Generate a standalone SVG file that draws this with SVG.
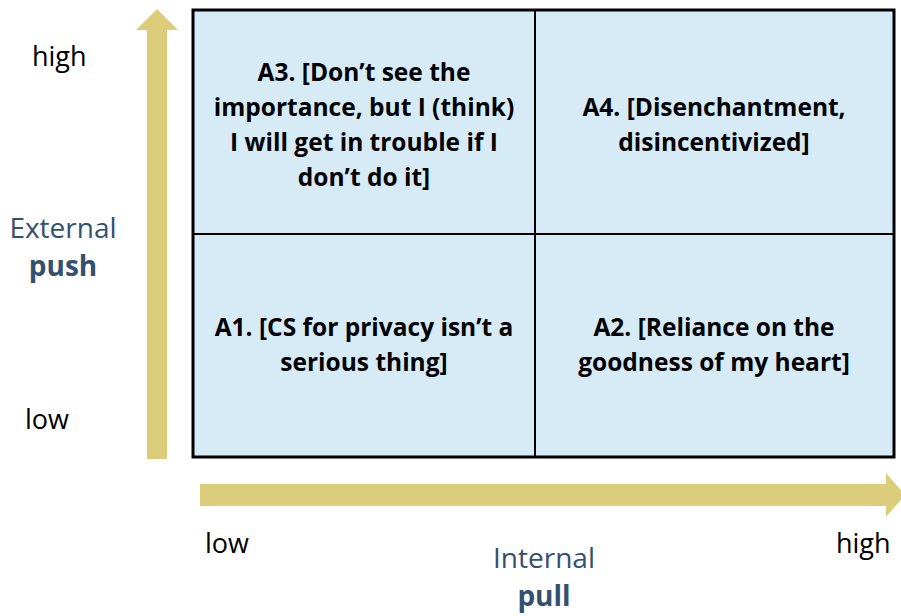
<svg xmlns="http://www.w3.org/2000/svg" width="901" height="616" viewBox="0 0 901 616">
  <style>
    .cell { fill: #d7ebf7; stroke: #000; stroke-width: 3; }
    .axis { fill: #dccd7a; }
    .q { font-family: "Open Sans", "Liberation Sans", sans-serif; font-weight: bold; font-size: 24.5px; fill: #000; text-anchor: middle; }
    .tick { font-family: "Open Sans", "Liberation Sans", sans-serif; font-size: 27px; fill: #000; }
    .ax { font-family: "Open Sans", "Liberation Sans", sans-serif; font-size: 28px; fill: #34506f; text-anchor: middle; }
  </style>

  <!-- axis arrows -->
  <g id="axis-external">
    <polygon class="axis" points="157,9 178,30 167,30 167,459 147,459 147,30 136,30"/>
  </g>
  <g id="axis-internal">
    <polygon class="axis" points="200,484 886,484 886,473 905,495 886,517 886,506 200,506"/>
  </g>

  <!-- quadrant grid -->
  <g id="grid">
    <rect class="cell" x="193" y="10" width="701" height="447"/>
    <line x1="535" y1="10" x2="535" y2="457" stroke="#000" stroke-width="2"/>
    <line x1="193" y1="234" x2="894" y2="234" stroke="#000" stroke-width="2"/>
  </g>

  <g id="A3">
    <text class="q" x="364" y="81">A3. [Don’t see the</text>
    <text class="q" x="364" y="116">importance, but I (think)</text>
    <text class="q" x="364" y="151">I will get in trouble if I</text>
    <text class="q" x="364" y="186">don’t do it]</text>
  </g>
  <g id="A4">
    <text class="q" x="714" y="116">A4. [Disenchantment,</text>
    <text class="q" x="714" y="151">disincentivized]</text>
  </g>
  <g id="A1">
    <text class="q" x="364" y="336">A1. [CS for privacy isn’t a</text>
    <text class="q" x="364" y="371">serious thing]</text>
  </g>
  <g id="A2">
    <text class="q" x="714" y="336">A2. [Reliance on the</text>
    <text class="q" x="714" y="371">goodness of my heart]</text>
  </g>

  <!-- axis labels -->
  <g id="labels">
    <text class="tick" x="32" y="66">high</text>
    <text class="tick" x="25" y="429">low</text>
    <text class="ax" x="63" y="238">External</text>
    <text class="ax" x="63" y="276" font-weight="bold">push</text>
    <text class="tick" x="205" y="553">low</text>
    <text class="tick" x="836" y="553">high</text>
    <text class="ax" x="544" y="568">Internal</text>
    <text class="ax" x="544" y="606" font-weight="bold">pull</text>
  </g>
</svg>
